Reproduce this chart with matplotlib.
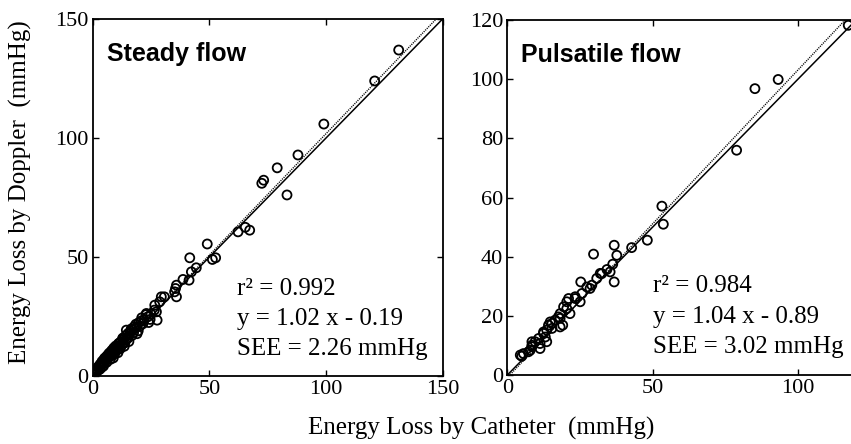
import numpy as np
import matplotlib
matplotlib.use("Agg")
import matplotlib.pyplot as plt

# energy loss (mmHg): catheter (x) vs Doppler (y)
steady_x = [131.2, 120.9, 99.1, 88.0, 79.1, 72.5, 73.3, 83.3, 62.3, 65.4, 67.3,
            49.1, 41.6, 51.3, 52.7, 44.4, 42.3, 41.3, 38.7, 35.9, 35.1, 35.9,
            35.5, 29.4, 28.7, 30.7, 26.6, 27.3, 27.6, 23.0, 23.6, 26.4, 18.0,
            14.4, 21.5, 20.2, 19.5, 18.8, 17.5, 16.8, 16.0, 15.2, 14.5, 13.8,
            13.0, 12.4, 11.8, 11.2, 10.5, 10.0, 9.5, 9.0, 8.4, 8.0, 7.5, 7.0,
            6.5, 6.0, 5.6, 5.0, 4.6, 4.2, 3.8, 3.4, 3.0, 2.6, 2.2, 1.8, 1.5,
            1.2, 0.9, 0.6, 0.4, 17.0, 19.0, 12.0, 15.5, 22.0, 24.0, 8.8, 10.8,
            13.5, 16.2, 17.8, 19.8, 20.8, 14.0, 12.8, 11.5, 9.8, 9.2, 7.8, 6.8,
            5.8, 4.9, 4.0, 3.2, 2.4, 1.6, 15.0, 13.2, 10.2, 8.2, 6.2, 21.0,
            18.5, 16.5, 25.0, 24.6, 22.8, 11.0, 13.0, 9.0, 7.0, 5.2]
steady_y = [137.0, 124.0, 105.9, 92.9, 87.5, 81.0, 82.3, 76.1, 60.6, 62.5, 61.3,
            55.5, 49.7, 49.0, 49.7, 45.5, 43.8, 40.3, 40.6, 38.2, 35.4, 33.3,
            36.8, 33.3, 31.2, 33.3, 29.8, 27.0, 23.5, 26.3, 24.9, 27.7, 20.0,
            19.3, 22.0, 21.0, 19.0, 20.5, 18.2, 17.0, 18.0, 16.0, 15.5, 14.0,
            15.2, 13.0, 11.5, 12.6, 11.0, 12.0, 9.5, 10.5, 8.6, 9.5, 7.0, 8.2,
            7.5, 5.8, 6.8, 5.5, 4.2, 5.6, 3.6, 4.6, 2.8, 3.8, 2.4, 3.0, 1.5,
            2.2, 0.8, 1.4, 0.4, 19.5, 17.8, 14.2, 14.5, 23.5, 22.5, 7.6, 9.8,
            12.5, 19.0, 20.8, 22.5, 23.2, 16.8, 15.8, 14.0, 12.6, 11.2, 10.2,
            9.0, 8.0, 7.2, 6.2, 5.0, 4.0, 2.8, 17.8, 13.8, 11.6, 10.8, 8.6,
            24.5, 21.8, 19.8, 26.0, 23.8, 25.8, 13.6, 16.0, 11.8, 9.6, 7.6]

pulse_x = [117.3, 93.2, 85.2, 78.9, 53.2, 53.7, 48.2, 42.8, 37.7, 36.8, 29.7,
           36.3, 36.8, 34.3, 32.0, 35.4, 32.5, 30.8, 28.5, 27.4, 29.1, 25.3,
           25.7, 25.1, 23.4, 23.4, 20.5, 21.1, 20.5, 21.6, 19.4, 19.1, 18.2,
           18.2, 17.6, 18.2, 16.5, 15.4, 14.8, 15.4, 14.2, 13.6, 12.5, 12.5,
           13.1, 13.6, 11.3, 11.3, 10.8, 9.6, 8.5, 8.5, 8.5, 7.9, 7.3, 5.6,
           5.0, 4.5]
pulse_y = [118.2, 99.9, 96.8, 76.0, 57.1, 51.0, 45.6, 43.1, 40.5, 43.9, 40.9,
           37.5, 31.5, 35.7, 34.4, 34.9, 34.3, 32.7, 29.3, 29.8, 30.4, 31.5,
           27.6, 24.8, 26.5, 25.9, 24.8, 25.9, 22.5, 20.8, 23.1, 16.9, 19.2,
           20.8, 19.7, 16.3, 18.6, 17.5, 18.0, 15.8, 16.9, 15.2, 14.6, 14.1,
           12.9, 11.3, 10.7, 9.0, 12.4, 11.3, 11.3, 10.1, 9.6, 8.4, 7.9, 7.3,
           6.4, 6.8]

panels = [
    dict(title="Steady flow", x=steady_x, y=steady_y, lim=150,
         xticks=[0, 50, 100, 150], yticks=[0, 50, 100, 150],
         slope=1.02, icpt=-0.19, r2="0.992", see="2.26",
         tx=61.7, ty=[34.0, 21.4, 8.8], right=True),
    dict(title="Pulsatile flow", x=pulse_x, y=pulse_y, lim=120,
         xticks=[0, 50, 100], yticks=[0, 20, 40, 60, 80, 100, 120],
         slope=1.04, icpt=-0.89, r2="0.984", see="3.02",
         tx=50.2, ty=[28.0, 17.6, 7.4], right=False),
]

serif = "Liberation Serif"
fig = plt.figure(figsize=(8.51, 4.44), dpi=100)
rects = [[0.109, 0.153, 0.411, 0.804], [0.596, 0.155, 0.41, 0.80]]

for rect, p in zip(rects, panels):
    ax = fig.add_axes(rect)
    lim = p["lim"]
    xx = np.array([0, lim])
    ax.plot(xx, xx, color="black", lw=1.1, zorder=2)             # identity
    ax.plot(xx, p["slope"] * xx + p["icpt"], color="black", lw=1.0,
            ls=(0, (0.8, 0.8)), zorder=2)                        # regression
    ax.scatter(p["x"], p["y"], s=42, facecolors="none", edgecolors="black",
               linewidths=1.3, zorder=3, clip_on=True)
    ax.set_xlim(0, lim)
    ax.set_ylim(0, lim)
    ax.set_xticks(p["xticks"])
    ax.set_yticks(p["yticks"])
    ax.tick_params(direction="in", length=4, width=1, top=True,
                   right=p["right"], labelsize=16, pad=3)
    for lab in ax.get_xticklabels() + ax.get_yticklabels():
        lab.set_fontfamily(serif)
    for sp in ax.spines.values():
        sp.set_linewidth(1.3)
    ax.text(0.04, 0.935, p["title"], transform=ax.transAxes, va="top",
            ha="left", fontsize=18, fontweight="bold",
            family="Liberation Sans")
    lines = ["r\u00b2 = " + p["r2"],
             "y = %.2f x - %.2f" % (p["slope"], -p["icpt"]),
             "SEE = %s mmHg" % p["see"]]
    for txt, ty in zip(lines, p["ty"]):
        ax.text(p["tx"], ty, txt, fontsize=18, family=serif, va="baseline",
                ha="left")

fig.text(0.024, 0.567, "Energy Loss by Doppler  (mmHg)", rotation=90,
         ha="center", va="center", fontsize=18, family=serif)
fig.text(0.565, 0.034, "Energy Loss by Catheter  (mmHg)", ha="center",
         va="center", fontsize=18, family=serif)

fig.savefig("out.png", dpi=100)
